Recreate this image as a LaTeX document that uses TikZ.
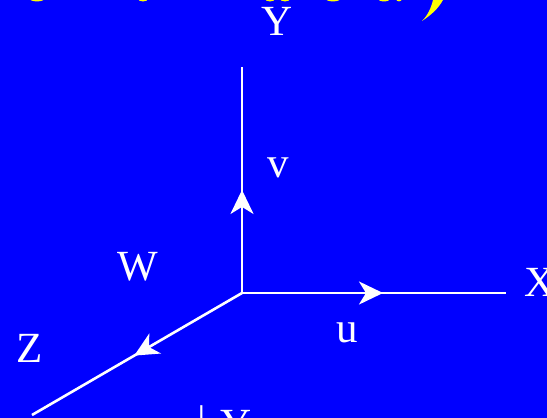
\documentclass[tikz,border=0pt]{standalone}
\usepackage{fontspec}
\setmainfont{Liberation Serif}
\usetikzlibrary{arrows.meta,decorations.markings}
\definecolor{bg}{RGB}{0,0,255}
\definecolor{ylw}{RGB}{255,255,0}
\tikzset{
  x=1pt,y=-1pt,
  lbl/.style={text=white,font=\fontsize{43}{43}\selectfont,inner sep=0pt,anchor=base},
  axis/.style={draw=white,line width=2.6pt},
  halfmark/.style={postaction={decorate,decoration={markings,mark=at position #1 with {\arrow{Stealth[length=24pt,width=23pt,inset=7pt,fill=white]}}}}},
  swash/.style={fill=ylw,draw=none}
}
\begin{document}
\begin{tikzpicture}
\useasboundingbox (0,0) rectangle (547,418);
\fill[bg] (0,0) rectangle (547,418);
\begin{scope}
\clip (0,0) rectangle (547,418);
\fill[swash] (422,21) .. controls (428,15) and (431,8) .. (433,0) -- (443,0) .. controls (438,9) and (431,15) .. (422,21) -- cycle;
\foreach \cx/\rx in {37/7,143/5,270/5,285/5,333/7,384/6,399/3}
  \fill[swash] (\cx,-1) ellipse [x radius=\rx, y radius=2.4];
\end{scope}
\coordinate (o) at (242,293);
\coordinate (ytop) at (242,67);
\coordinate (xend) at (506,293);
\coordinate (zend) at (32,415);
\draw[axis,halfmark=0.456] (o) -- (ytop);
\draw[axis,halfmark=0.534] (o) -- (xend);
\draw[axis,halfmark=0.513] (o) -- (zend);
\node[lbl] (ly) at (277,35) {Y};
\node[lbl] (lv) at (278,177) {v};
\node[lbl] (lw) at (137.5,280) {W};
\node[lbl] (lx) at (540,296) {X};
\node[lbl] (lu) at (347.5,342) {u};
\node[lbl] (lz) at (30,362) {Z};
\node[lbl] (ly2) at (236,438) {Y};
\node[lbl] (bar) at (202,435) {|};
\end{tikzpicture}
\end{document}
